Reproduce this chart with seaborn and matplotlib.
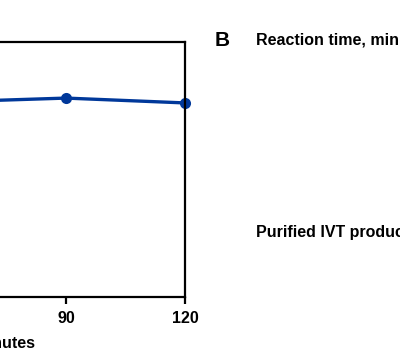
import numpy as np
import pandas as pd
import matplotlib
matplotlib.use('Agg')
import matplotlib.pyplot as plt
import seaborn as sns

# data (panel A, only the right part is visible in the crop)
times = [0, 15, 30, 60, 90, 120]
yield_pct = [0, 45, 65, 76.5, 78.0, 76.1]
tick_vals = [0, 30, 60, 90, 120]
row_labels = ['Reaction time, minutes', 'Purified IVT product']

sns.set_style('ticks')
plt.rcParams['font.family'] = ['Liberation Sans', 'DejaVu Sans']
plt.rcParams['font.weight'] = 'bold'
plt.rcParams['text.color'] = 'black'
plt.rcParams['xtick.color'] = 'black'
plt.rcParams['axes.labelcolor'] = 'black'

fig = plt.figure(figsize=(4.0, 3.61), dpi=100)
ax = fig.add_axes([-0.7275, 0.1773, 1.19, 0.7064])

df = pd.DataFrame({'time': times, 'yield': yield_pct})
sns.lineplot(data=df, x='time', y='yield', ax=ax, color='#00389a',
             marker='o', markersize=8, markeredgewidth=0, linewidth=2.4,
             clip_on=False)

ax.set_xlim(0, 120)
ax.set_ylim(0, 100)
ax.set_xticks(tick_vals)
ax.set_xlabel('Reaction time, minutes', fontsize=11.5, fontweight='bold', labelpad=7)
ax.set_ylabel('')
for s in ax.spines.values():
    s.set_linewidth(1.6)
    s.set_color('black')
ax.tick_params(axis='x', length=5, width=1.6, pad=5, labelsize=11.5, colors='black')
for lbl in ax.get_xticklabels():
    lbl.set_fontweight('bold')

# panel B header
fig.text(0.537, 0.889, 'B', fontsize=15, fontweight='bold', va='center', ha='left')
fig.text(0.64, 0.889, row_labels[0], fontsize=11.5, fontweight='bold', va='center', ha='left')
fig.text(0.64, 0.355, row_labels[1], fontsize=11.5, fontweight='bold', va='center', ha='left')

plt.savefig('out.png', dpi=100)
